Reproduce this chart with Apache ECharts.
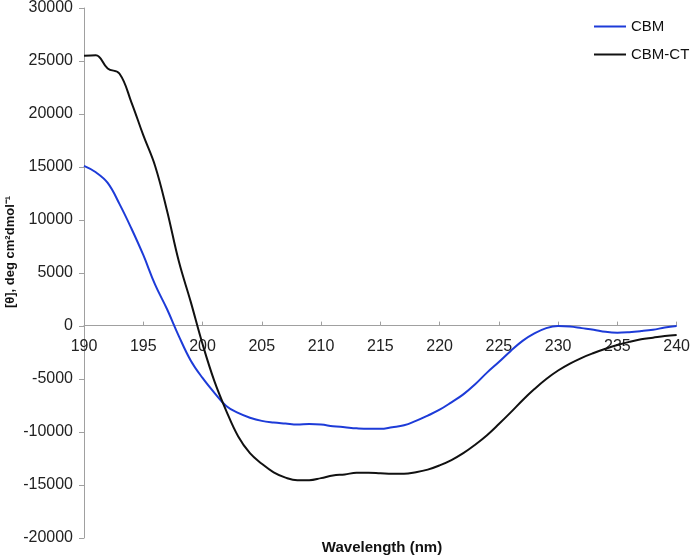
<!DOCTYPE html>
<html>
<head>
<meta charset="utf-8">
<script src="https://cdn.jsdelivr.net/npm/echarts@6/dist/echarts.min.js"></script>
<style>html,body{margin:0;padding:0;background:#fff}#c{width:693px;height:560px}</style>
</head>
<body>
<div id="c"></div>
<script>
const wavelengths = [190,191,192,193,194,195,196,197,198,199,200,201,202,203,204,205,206,207,208,209,210,211,212,213,214,215,216,217,218,219,220,221,222,223,224,225,226,227,228,229,230,231,232,233,234,235,236,237,238,239,240];
const cbm = [15100,14500,13500,11500,9200,6700,3900,1600,-950,-3250,-4900,-6300,-7550,-8200,-8650,-8950,-9100,-9200,-9300,-9250,-9300,-9450,-9550,-9650,-9700,-9700,-9550,-9370,-8950,-8450,-7900,-7200,-6450,-5500,-4400,-3400,-2350,-1400,-700,-200,0,-50,-200,-350,-550,-630,-580,-480,-350,-150,0];
const cbmCT = [25500,25550,24300,23800,21100,18000,15100,10900,6100,2300,-1700,-5200,-8000,-10400,-12000,-13000,-13800,-14300,-14550,-14550,-14350,-14100,-14000,-13850,-13850,-13900,-13950,-13950,-13800,-13550,-13150,-12650,-12000,-11200,-10300,-9250,-8150,-7000,-5950,-5000,-4200,-3550,-3000,-2550,-2150,-1800,-1500,-1250,-1100,-950,-850];
const seriesNames = ['CBM','CBM-CT'];
const xTitle = 'Wavelength (nm)';
const yTitle = '[θ], deg cm²dmol⁻¹';
const yMin = -20000, yMax = 30000;

const FONT = '"Liberation Sans", Arial, Helvetica, sans-serif';
const GRID_TOP = 7, GRID_BOTTOM = 22, H = 560;
const gridH = H - GRID_TOP - GRID_BOTTOM;
const zeroOffset = -gridH * (0 - yMin) / (yMax - yMin);
const chart = echarts.init(document.getElementById('c'));
const pair = arr => wavelengths.map((w,i)=>[w, arr[i]]);
chart.setOption({
  animation: false,
  backgroundColor: '#fff',
  grid: {left: 84, right: 14, top: GRID_TOP, bottom: GRID_BOTTOM, containLabel: false},
  legend: {
    orient: 'vertical', left: 594, top: 19, padding: 0, itemWidth: 32, itemHeight: 2, itemGap: 13,
    icon: 'rect',
    textStyle: {fontFamily: FONT, fontSize: 15, color: '#111'},
    data: seriesNames
  },
  xAxis: {
    type: 'value', min: 190, max: 240, interval: 5,
    offset: zeroOffset,
    axisLine: {onZero: false, lineStyle: {color: '#a0a0a0', width: 1}},
    axisTick: {inside: true, length: 4, lineStyle: {color: '#a0a0a0'}},
    axisLabel: {fontFamily: FONT, fontSize: 16, color: '#222', margin: 13},
    splitLine: {show: false}
  },
  yAxis: {
    type: 'value', min: yMin, max: yMax, interval: 5000,
    axisLine: {show: true, lineStyle: {color: '#a0a0a0', width: 1}},
    axisTick: {show: true, length: 5, lineStyle: {color: '#a0a0a0'}},
    axisLabel: {fontFamily: FONT, fontSize: 16, color: '#222', margin: 11, formatter: v => String(v)},
    splitLine: {show: false}
  },
  series: [
    {name: seriesNames[0], type: 'line', data: pair(cbm), smooth: 0.4, symbol: 'none',
     lineStyle: {color: '#1d3bd8', width: 2}, itemStyle: {color: '#1d3bd8'}},
    {name: seriesNames[1], type: 'line', data: pair(cbmCT), smooth: 0.4, symbol: 'none',
     lineStyle: {color: '#111111', width: 2}, itemStyle: {color: '#111111'}}
  ],
  graphic: [
    {type: 'text', x: 382, y: 548, style: {text: xTitle, font: 'bold 15px ' + FONT, fill: '#111', textAlign: 'center', textVerticalAlign: 'middle'}},
    {type: 'text', x: 10, y: 252, rotation: Math.PI/2, style: {text: yTitle, font: 'bold 13px ' + FONT, fill: '#111', textAlign: 'center', textVerticalAlign: 'middle'}}
  ]
});
</script>
</body>
</html>
